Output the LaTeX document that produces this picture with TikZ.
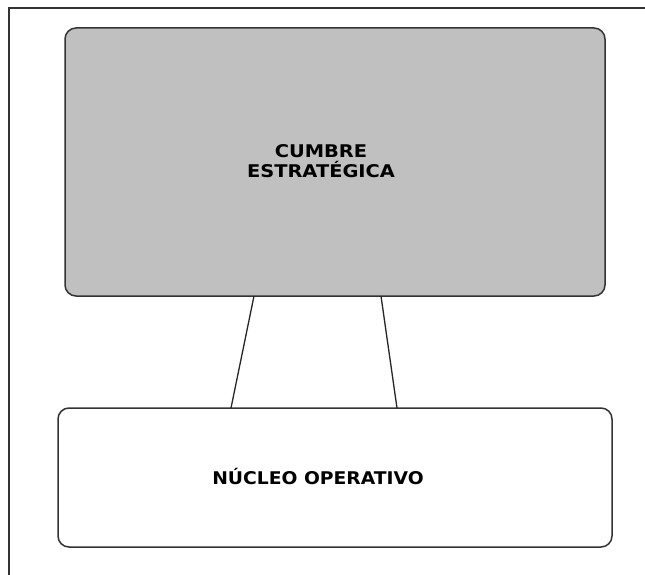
\documentclass[tikz,border=0pt]{standalone}
\usepackage{fontspec}
\setmainfont{DejaVu Sans}
\begin{document}
\begin{tikzpicture}[x=1pt,y=-1pt,
  frameline/.style={draw=black!80,line width=1.4pt},
  boxshape/.style={draw=black!80,line width=1.5pt,rounded corners=11pt},
  link/.style={draw=black!85,line width=1.3pt},
  lbl/.style={font=\fontsize{17.5}{20.5}\selectfont\bfseries,align=center,inner sep=0pt,xscale=1.11,transform shape},
  lblb/.style={font=\fontsize{17.5}{20.5}\selectfont\bfseries,align=center,inner sep=0pt,xscale=1.07,transform shape}]
\useasboundingbox (0,0) rectangle (645,575);
\fill[white] (0,0) rectangle (645,575);
\draw[frameline] (645,8) -- (9,8) -- (9,575);
% boxes
\path[boxshape,fill={rgb,255:red,192;green,192;blue,192}] (65,28) rectangle (605,296);
\path[boxshape,fill=white] (58,408) rectangle (612,547);
\node[lbl] (cumbre) at (321,161) {CUMBRE\\ESTRATÉGICA};
\node[lblb] (nucleo) at (318,477) {NÚCLEO OPERATIVO};
\coordinate (t1) at (254,296);
\coordinate (b1) at (231,408);
\coordinate (t2) at (381,296);
\coordinate (b2) at (397,408);
\draw[link] (t1) -- (b1);
\draw[link] (t2) -- (b2);
\end{tikzpicture}
\end{document}
